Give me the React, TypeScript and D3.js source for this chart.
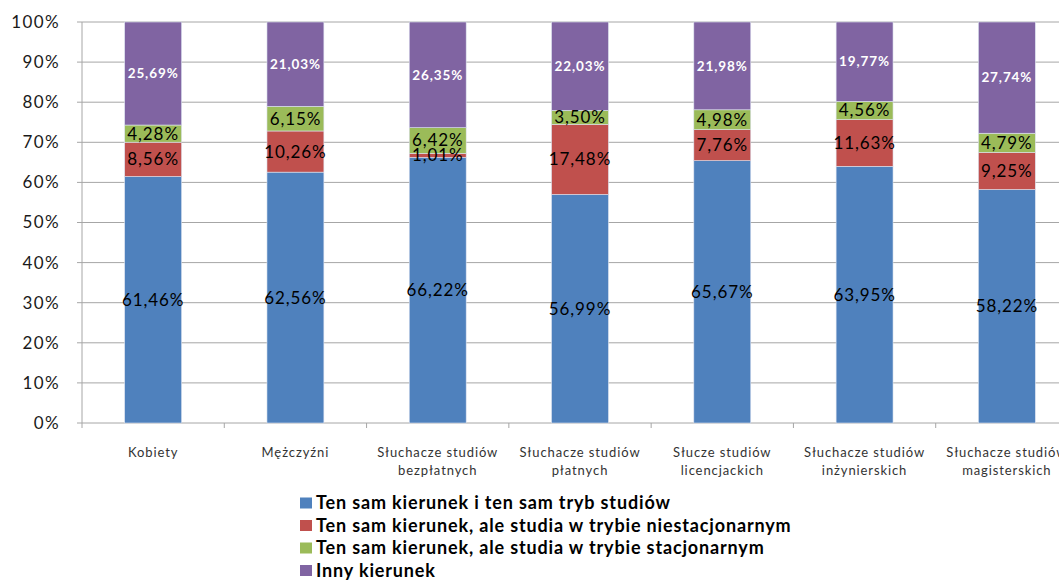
import React from "react";
import * as d3 from "d3";

const categories = [
  ["Kobiety"],
  ["Mężczyźni"],
  ["Słuchacze studiów", "bezpłatnych"],
  ["Słuchacze studiów", "płatnych"],
  ["Słucze studiów", "licencjackich"],
  ["Słuchacze studiów", "inżynierskich"],
  ["Słuchacze studiów", "magisterskich"],
];
const seriesNames = [
  "Ten sam kierunek i ten sam tryb studiów",
  "Ten sam kierunek, ale studia w trybie niestacjonarnym",
  "Ten sam kierunek, ale studia w trybie stacjonarnym",
  "Inny kierunek",
];
const sameBoth = [61.46, 62.56, 66.22, 56.99, 65.67, 63.95, 58.22];
const sameNiestac = [8.56, 10.26, 1.01, 17.48, 7.76, 11.63, 9.25];
const sameStac = [4.28, 6.15, 6.42, 3.5, 4.98, 4.56, 4.79];
const other = [25.69, 21.03, 26.35, 22.03, 21.98, 19.77, 27.74];
const yTicks = [0, 0.1, 0.2, 0.3, 0.4, 0.5, 0.6, 0.7, 0.8, 0.9, 1];
const colors = ["#4f81bd", "#c0504d", "#9bbb59", "#8064a2"];

const W = 1059;
const H = 582;
const FONT = "Lato, 'Open Sans', sans-serif";

export default function App() {
  const keys = ["s0", "s1", "s2", "s3"];
  const seriesVals = [sameBoth, sameNiestac, sameStac, other];
  const rows = categories.map((c, i) => {
    const r: any = { idx: i };
    keys.forEach((k, j) => (r[k] = seriesVals[j][i]));
    return r;
  });
  const stacked = d3.stack<any>().keys(keys).offset(d3.stackOffsetExpand)(rows);

  const x = d3
    .scaleBand<number>()
    .domain(categories.map((_, i) => i))
    .range([82, 1078])
    .paddingInner(0.6)
    .paddingOuter(0.3);
  const y = d3.scaleLinear().domain([0, 1]).range([423, 22]);
  const step = x.step();
  const fmt = (v: number) => v.toFixed(2).replace(".", ",") + "%";

  return (
    <svg
      width={W}
      height={H}
      style={{ position: "absolute", left: 0, top: 0, background: "#fff" }}
      fontFamily={FONT}
    >
      {/* gridlines */}
      {yTicks.map((t) => (
        <g key={t}>
          <line x1={77} x2={W} y1={y(t)} y2={y(t)} stroke="#a6a6a6" strokeWidth={1} />
          <text
            x={60}
            y={y(t)}
            dy="0.35em"
            textAnchor="end"
            fontSize={17}
            letterSpacing={1.4}
            fill="#1a1a1a"
          >
            {Math.round(t * 100) + "%"}
          </text>
        </g>
      ))}
      {/* y axis */}
      <line x1={82} x2={82} y1={22} y2={423} stroke="#a6a6a6" />
      {/* bars */}
      {stacked.map((s, si) => (
        <g key={si}>
          {s.map((d, i) => (
            <rect
              key={i}
              x={x(i)}
              width={x.bandwidth()}
              y={y(d[1])}
              height={y(d[0]) - y(d[1])}
              fill={colors[si]}
              stroke="#dde3f0"
              strokeWidth={0.6}
            />
          ))}
        </g>
      ))}
      {/* category ticks */}
      {d3.range(categories.length + 1).map((i) => (
        <line
          key={i}
          x1={82 + i * step}
          x2={82 + i * step}
          y1={423}
          y2={428}
          stroke="#a6a6a6"
        />
      ))}
      {/* labels */}
      {stacked.map((s, si) => (
        <g key={"l" + si}>
          {s.map((d, i) => (
            <text
              key={i}
              x={(x(i) as number) + x.bandwidth() / 2}
              y={y((d[0] + d[1]) / 2)}
              dy="0.35em"
              textAnchor="middle"
              fontSize={si === 3 ? 13.5 : 17}
              letterSpacing={si === 3 ? 0.9 : 0.9}
              fontWeight={si === 3 ? "bold" : "normal"}
              fill={si === 3 ? "#ffffff" : "#000000"}
            >
              {fmt(seriesVals[si][i])}
            </text>
          ))}
        </g>
      ))}
      {/* category labels */}
      {categories.map((lines, i) => (
        <text
          key={i}
          x={(x(i) as number) + x.bandwidth() / 2}
          y={457}
          textAnchor="middle"
          fontSize={13}
          letterSpacing={0.9}
          fill="#333"
        >
          {lines.map((ln, k) => (
            <tspan key={k} x={(x(i) as number) + x.bandwidth() / 2} dy={k === 0 ? 0 : 18}>
              {ln}
            </tspan>
          ))}
        </text>
      ))}
      {/* legend */}
      {seriesNames.map((n, i) => (
        <g key={n} transform={`translate(300, ${503 + i * 22.5})`}>
          <rect x={0} y={-5.5} width={12} height={11} fill={colors[i]} />
          <text x={16} y={0} dy="0.35em" fontSize={18} letterSpacing={0.85} fontWeight="bold" fill="#000">
            {n}
          </text>
        </g>
      ))}
    </svg>
  );
}
